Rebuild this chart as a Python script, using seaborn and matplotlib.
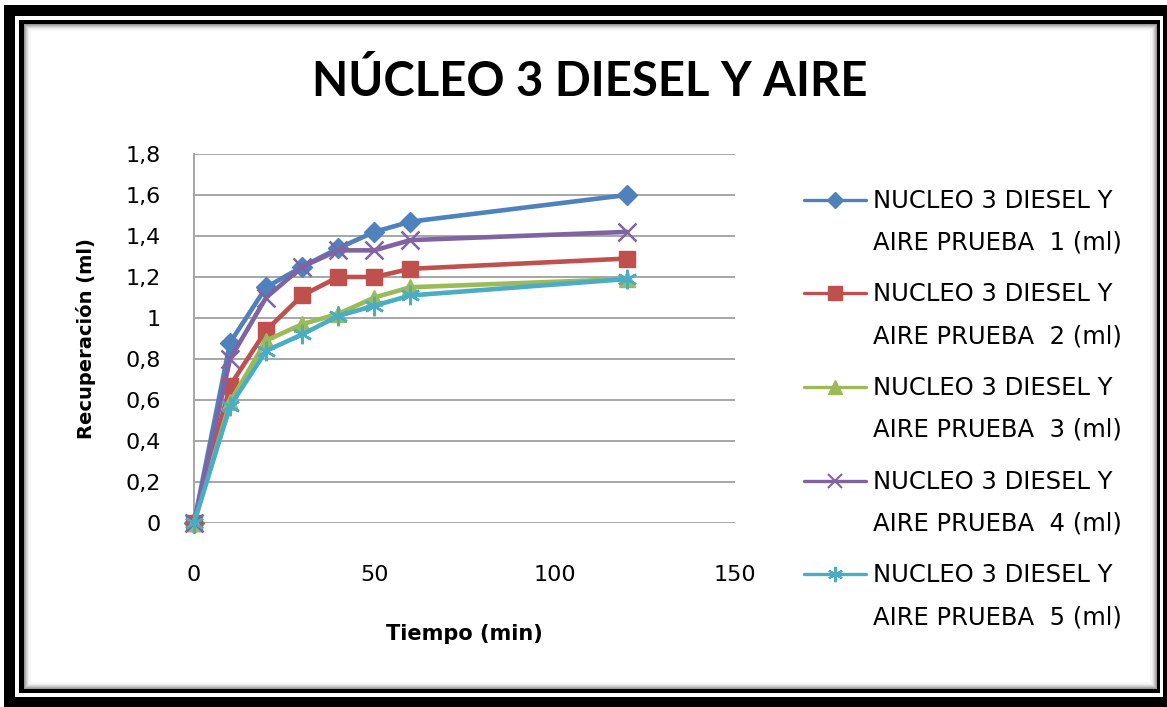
import numpy as np
import pandas as pd
import seaborn as sns
import matplotlib.pyplot as plt
from matplotlib.patches import Rectangle
from matplotlib.lines import Line2D
from matplotlib.legend_handler import HandlerLine2D
from matplotlib.ticker import FuncFormatter

# values
tiempo = [0, 10, 20, 30, 40, 50, 60, 120]
prueba1 = [0, 0.88, 1.15, 1.25, 1.34, 1.42, 1.47, 1.60]
prueba2 = [0, 0.67, 0.94, 1.11, 1.20, 1.20, 1.24, 1.29]
prueba3 = [0, 0.59, 0.89, 0.97, 1.02, 1.10, 1.15, 1.19]
prueba4 = [0, 0.80, 1.10, 1.25, 1.33, 1.33, 1.38, 1.42]
prueba5 = [0, 0.57, 0.84, 0.92, 1.01, 1.06, 1.11, 1.19]
series = ["NUCLEO 3 DIESEL Y\nAIRE PRUEBA  1 (ml)", "NUCLEO 3 DIESEL Y\nAIRE PRUEBA  2 (ml)",
          "NUCLEO 3 DIESEL Y\nAIRE PRUEBA  3 (ml)", "NUCLEO 3 DIESEL Y\nAIRE PRUEBA  4 (ml)",
          "NUCLEO 3 DIESEL Y\nAIRE PRUEBA  5 (ml)"]

df = pd.DataFrame({
    "tiempo": tiempo * 5,
    "valor": prueba1 + prueba2 + prueba3 + prueba4 + prueba5,
    "serie": np.repeat(series, len(tiempo)),
})

colors = ["#4F81BD", "#C0504D", "#9BBB59", "#8064A2", "#4BACC6"]
markers = ["D", "s", "^", "x", (6, 2, 0)]
msizes = [10, 12, 12, 13, 14]
leg_ms = [8, 10, 10, 10, 11]

sns.set_style("white")
plt.rcParams["font.family"] = ["DejaVu Sans"]
plt.rcParams["text.color"] = "black"
plt.rcParams["axes.labelcolor"] = "black"
plt.rcParams["xtick.color"] = "black"
plt.rcParams["ytick.color"] = "black"

W, H = 1167, 707
fig = plt.figure(figsize=(W / 100, H / 100), dpi=100)


def rect(x0, y0, x1, y1, color, z=-10):
    r = Rectangle((x0 / W, 1 - y1 / H), (x1 - x0) / W, (y1 - y0) / H,
                  transform=fig.transFigure, facecolor=color,
                  edgecolor=color, linewidth=0, zorder=z)
    fig.patches.append(r)


# double border frame with a soft inner shadow
rect(4, 5, W, H, "black", z=-14)
rect(15, 16, 1163, 697, "white", z=-13)
rect(19, 20, 1160, 693, "black", z=-12)
rect(24, 24, 1157, 689, "#9a9a9a", z=-11)
for i, g in enumerate(["#b0b0b0", "#c8c8c8", "#dcdcdc", "#ececec", "#f6f6f6"]):
    rect(25 + i, 25 + i, 1156 - i, 688 - i, g, z=-10 + i * 0.1)
rect(31, 31, 1150, 682, "white", z=-9)

ax = fig.add_axes([194 / W, 1 - 523 / H, 541 / W, 369 / H])
ax.patch.set_alpha(0)

for s, c, m, ms in zip(series, colors, markers, msizes):
    sns.lineplot(data=df[df["serie"] == s], x="tiempo", y="valor", ax=ax,
                 color=c, marker=m, markersize=ms, linewidth=3.3,
                 markeredgecolor=c, markeredgewidth=1.8 if m in ("x", (6, 2, 0)) else 1,
                 legend=False, zorder=3, clip_on=False)

ax.set_xlim(0, 150)
ax.set_ylim(0, 1.8)
ax.set_xticks([0, 50, 100, 150])
ax.set_yticks(np.arange(0, 1.81, 0.2))
ax.yaxis.set_major_formatter(FuncFormatter(lambda v, p: f"{v:.1f}".rstrip("0").rstrip(".").replace(".", ",")))
ax.grid(axis="y", color="#a6a6a6", linewidth=1.4)
ax.grid(axis="x", visible=False)
ax.set_axisbelow(True)
for sp in ["top", "right", "bottom"]:
    ax.spines[sp].set_visible(False)
ax.spines["left"].set_color("#a6a6a6")
ax.spines["left"].set_linewidth(1.4)
ax.tick_params(axis="both", length=0, labelsize=16)
ax.tick_params(axis="y", pad=24)
ax.tick_params(axis="x", pad=30)
ax.set_xlabel("Tiempo (min)", fontsize=15, fontweight="bold", labelpad=28)
ax.set_ylabel("Recuperación (ml)", fontsize=14, fontweight="bold", labelpad=21)

fig.text(590 / W, 1 - 82 / H, "NÚCLEO 3 DIESEL Y AIRE", ha="center", va="center",
         fontsize=34, fontweight="bold", family=["Lato", "DejaVu Sans"], color="black")


class FirstLineHandler(HandlerLine2D):
    def __init__(self, dy, **kw):
        super().__init__(**kw)
        self.dy = dy

    def create_artists(self, legend, orig_handle, xdescent, ydescent, width, height, fontsize, trans):
        arts = super().create_artists(legend, orig_handle, xdescent, ydescent, width, height, fontsize, trans)
        for a in arts:
            a.set_ydata(np.asarray(a.get_ydata(), dtype=float) + self.dy)
        return arts


handles = [Line2D([], [], color=c, marker=m, markersize=ms, linewidth=2.4,
                  markeredgecolor=c, markeredgewidth=1.5 if m in ("x", (6, 2, 0)) else 1)
           for c, m, ms in zip(colors, markers, leg_ms)]
leg = fig.legend(handles, series, loc="upper left", bbox_to_anchor=(782 / W, 1 - 167 / H),
                 frameon=False, fontsize=17.5, handlelength=2.55, handletextpad=0.3,
                 labelspacing=1.15,
                 handler_map={Line2D: FirstLineHandler(16.5)})
for t in leg.get_texts():
    t.set_linespacing(1.93)

fig.savefig("out.png", dpi=100)
